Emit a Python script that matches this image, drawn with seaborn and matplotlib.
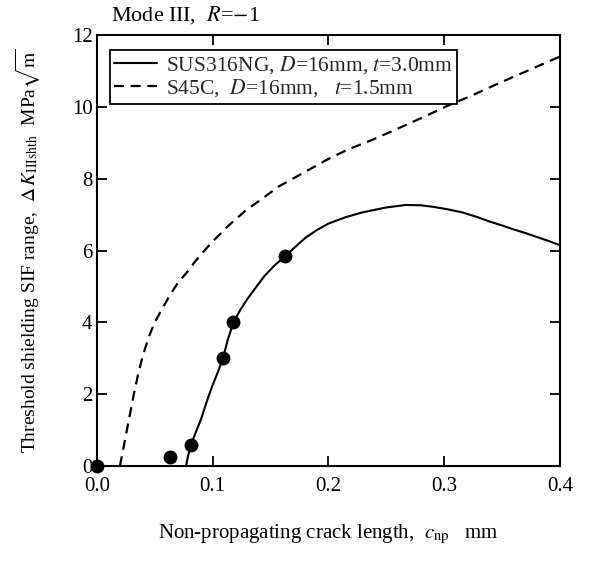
import matplotlib
matplotlib.use("Agg")
import matplotlib.pyplot as plt
import seaborn as sns
import pandas as pd

# ---- data ----
sus_x = [0.077, 0.079, 0.081, 0.085, 0.090, 0.095, 0.100, 0.105, 0.109, 0.113,
         0.118, 0.124, 0.130, 0.138, 0.145, 0.154, 0.163, 0.172, 0.180, 0.190,
         0.200, 0.215, 0.229, 0.250, 0.267, 0.280, 0.290, 0.303, 0.316, 0.328,
         0.340, 0.350, 0.359, 0.370, 0.380, 0.390, 0.400]
sus_y = [0.0, 0.3, 0.55, 0.9, 1.3, 1.8, 2.25, 2.65, 3.0, 3.5,
         4.0, 4.35, 4.65, 5.0, 5.3, 5.6, 5.85, 6.12, 6.35, 6.57,
         6.75, 6.93, 7.06, 7.2, 7.27, 7.26, 7.22, 7.15, 7.06, 6.94,
         6.8, 6.7, 6.6, 6.49, 6.38, 6.27, 6.15]

s45_x = [0.020, 0.023, 0.026, 0.029, 0.032, 0.036, 0.040, 0.045, 0.050, 0.056,
         0.063, 0.070, 0.078, 0.085, 0.093, 0.100, 0.114, 0.128, 0.143, 0.157,
         0.172, 0.186, 0.200, 0.216, 0.237, 0.259, 0.281, 0.303, 0.325, 0.346,
         0.373, 0.400]
s45_y = [0.0, 0.5, 1.0, 1.5, 2.0, 2.6, 3.1, 3.6, 4.0, 4.35,
         4.75, 5.1, 5.4, 5.7, 6.0, 6.25, 6.7, 7.1, 7.45, 7.78,
         8.05, 8.3, 8.55, 8.8, 9.07, 9.38, 9.7, 10.03, 10.33, 10.64,
         11.02, 11.4]

pt_x = [0.0, 0.063, 0.081, 0.109, 0.118, 0.163]
pt_y = [0.0, 0.25, 0.6, 3.0, 4.0, 5.85]

x_ticks = [0.0, 0.1, 0.2, 0.3, 0.4]
y_ticks = [0, 2, 4, 6, 8, 10, 12]

label_sus = r"SUS316NG, $D$=16mm, $t$=3.0mm"
label_s45 = r"S45C,  $D$=16mm,   $t$=1.5mm"

sns.set_theme(style="white")
plt.rcParams["font.family"] = ["Liberation Serif", "DejaVu Serif"]
plt.rcParams["mathtext.fontset"] = "stix"

fig = plt.figure(figsize=(5.9, 5.65), dpi=100)
ax = fig.add_axes([0.164, 0.175, 0.785, 0.763])

sus_df = pd.DataFrame({"x": sus_x, "y": sus_y})
s45_df = pd.DataFrame({"x": s45_x, "y": s45_y})
pt_df = pd.DataFrame({"x": pt_x, "y": pt_y})

sns.lineplot(data=sus_df, x="x", y="y", ax=ax, color="black", lw=1.5,
             sort=False, estimator=None, label=label_sus)
sns.lineplot(data=s45_df, x="x", y="y", ax=ax, color="black", lw=1.6,
             sort=False, estimator=None, label=label_s45)
ax.lines[1].set_dashes([4.5, 3])
sns.scatterplot(data=pt_df, x="x", y="y", ax=ax, color="black", s=100,
                edgecolor="black", linewidth=0, zorder=5, clip_on=False, legend=False)

ax.set_xlim(0, 0.4)
ax.set_ylim(0, 12)
ax.set_xticks(x_ticks)
ax.set_xticklabels([f"{v:.1f}" for v in x_ticks])
ax.set_yticks(y_ticks)
ax.set_yticklabels([str(v) for v in y_ticks])

for sp in ax.spines.values():
    sp.set_color("black")
    sp.set_linewidth(1.5)
ax.tick_params(direction="in", length=7, width=1.3, top=True, right=True,
               bottom=True, left=True, labelsize=15, colors="black", pad=3)
ax.tick_params(axis="x", pad=8)

ax.set_xlabel(r"Non-propagating crack length,  $c_{\rm np}$   mm", fontsize=15,
              labelpad=19, color="black")
ax.set_ylabel(r"Threshold shielding SIF range,  $\Delta\,K_{\rm III shth}$  MPa$\sqrt{\rm m}$",
              fontsize=14, labelpad=21, color="black")

ax.text(0.03, 1.02, r"Mode III,  $R$=$-$1", transform=ax.transAxes, fontsize=16,
        ha="left", va="bottom", color="black")

leg = ax.legend(loc="upper left", bbox_to_anchor=(0.028, 0.965), fontsize=15.5,
                frameon=True, fancybox=False, framealpha=1, edgecolor="black",
                handlelength=2.0, handletextpad=0.4, borderpad=0.2,
                labelspacing=0.05, borderaxespad=0)
leg.get_frame().set_linewidth(1.3)

fig.savefig("out.png", dpi=100, facecolor="white")
